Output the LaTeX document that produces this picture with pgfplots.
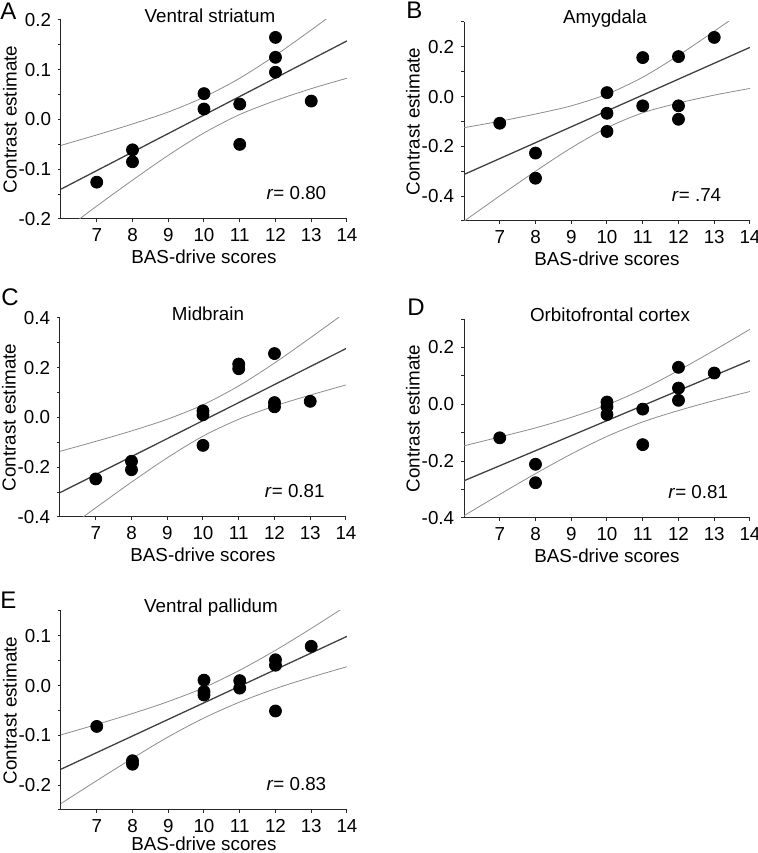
\documentclass[border=0pt]{standalone}
\usepackage{fontspec}
\setmainfont{Liberation Sans}
\usepackage{pgfplots}
\pgfplotsset{compat=1.18}

\newcommand{\lblfont}{\fontsize{9.4}{11}\selectfont}
\newcommand{\letfont}{\fontsize{12}{14}\selectfont}
\pgfplotsset{
  panel/.style={
    scale only axis, width=143pt, height=99.5pt,
    axis lines*=left, xmin=6, xmax=14, xtick={7,...,14},
    clip mode=individual,
    tick align=outside, major tick length=1.4pt, minor tick length=1.4pt,
    axis line style={line width=0.5pt, color=black!85},
    every tick/.style={line width=0.5pt, color=black!85},
    minor tick style={line width=0.5pt, color=black!85},
    every tick label/.append style={font=\lblfont},
    /pgf/number format/assume math mode=true,
    yticklabel style={/pgf/number format/fixed, /pgf/number format/fixed zerofill, /pgf/number format/precision=1},
    xlabel={BAS-drive scores}, ylabel={Contrast estimate},
    every axis x label/.style={at={(axis description cs:0.5,0)}, yshift=-18.7pt, anchor=center, font=\lblfont},
    every axis y label/.style={at={(axis description cs:0,0.5)}, xshift=-25.5pt, rotate=90, anchor=center, font=\lblfont},
  },
  ci/.style={no marks, smooth, color=black!45, line width=0.4pt},
  fit/.style={no marks, color=black!75, line width=0.65pt},
  dots/.style={only marks, mark=*, mark size=3pt, color=black},
}

\begin{document}
\begin{tikzpicture}
\path[use as bounding box] (0,0) rectangle (379pt,426.5pt);

% A
\begin{axis}[panel, at={(30.5pt,317pt)}, anchor=south west,
  ymin=-0.2, ymax=0.2, ytick={-0.2,-0.1,0,0.1,0.2}, minor ytick={-0.15,-0.05,0.05,0.15}]
\addplot[ci] coordinates {(6,-0.052) (7,-0.031) (8,-0.009) (9,0.015) (10,0.045) (11,0.083) (12,0.129) (13,0.180) (14,0.233)};
\addplot[ci] coordinates {(6,-0.228) (7,-0.174) (8,-0.122) (9,-0.072) (10,-0.027) (11,0.010) (12,0.038) (13,0.062) (14,0.083)};
\addplot[fit] coordinates {(6,-0.140) (14,0.158)};
\addplot[dots] coordinates {(7,-0.126) (8,-0.061) (8,-0.085) (10,0.052) (10,0.021) (11,0.031) (11,-0.050) (12,0.165) (12,0.125) (12,0.095) (13,0.037)};
\node[font=\lblfont, anchor=base, xshift=3pt, yshift=-1.2pt] at (rel axis cs:0.5,1) {Ventral striatum};
\node[font=\lblfont, anchor=base east] at (rel axis cs:0.952,0.097) {\textit{r}= 0.80};
\end{axis}

% B
\begin{axis}[panel, at={(232pt,316pt)}, anchor=south west,
  ymin=-0.5, ymax=0.3, ytick={-0.4,-0.2,0,0.2}, minor ytick={-0.5,-0.3,-0.1,0.1,0.3}]
\addplot[ci] coordinates {(6,-0.125) (7,-0.099) (8,-0.070) (9,-0.037) (10,0.010) (11,0.078) (12,0.166) (13,0.263) (14,0.363)};
\addplot[ci] coordinates {(6,-0.501) (7,-0.399) (8,-0.300) (9,-0.206) (10,-0.125) (11,-0.065) (12,-0.026) (13,0.006) (14,0.033)};
\addplot[fit] coordinates {(6,-0.313) (14,0.198)};
\addplot[dots] coordinates {(7,-0.107) (8,-0.227) (8,-0.328) (10,0.016) (10,-0.067) (10,-0.140) (11,0.157) (11,-0.037) (12,0.161) (12,-0.037) (12,-0.091) (13,0.238)};
\node[font=\lblfont, anchor=base, xshift=-1pt, yshift=-0.8pt] at (rel axis cs:0.5,1) {Amygdala};
\node[font=\lblfont, anchor=base east] at (rel axis cs:0.924,0.097) {\textit{r}= .74};
\end{axis}

% C
\begin{axis}[panel, at={(30pt,168pt)}, anchor=south west,
  ymin=-0.4, ymax=0.4, ytick={-0.4,-0.2,0,0.2,0.4}, minor ytick={-0.3,-0.1,0.1,0.3}]
\addplot[ci] coordinates {(6,-0.136) (7,-0.096) (8,-0.054) (9,-0.007) (10,0.051) (11,0.127) (12,0.219) (13,0.320) (14,0.424)};
\addplot[ci] coordinates {(6,-0.468) (7,-0.363) (8,-0.260) (9,-0.162) (10,-0.075) (11,-0.007) (12,0.046) (13,0.090) (14,0.131)};
\addplot[fit] coordinates {(6,-0.302) (14,0.277)};
\addplot[dots] coordinates {(7,-0.247) (8,-0.176) (8,-0.210) (10,0.027) (10,0.011) (10,-0.112) (11,0.215) (11,0.196) (12,0.257) (12,0.060) (12,0.043) (13,0.065)};
\node[font=\lblfont, anchor=base, xshift=2.5pt, yshift=-1.4pt] at (rel axis cs:0.5,1) {Midbrain};
\node[font=\lblfont, anchor=base east] at (rel axis cs:0.95,0.096) {\textit{r}= 0.81};
\end{axis}

% D
\begin{axis}[panel, at={(232pt,167.5pt)}, anchor=south west,
  ymin=-0.4, ymax=0.3, ytick={-0.4,-0.2,0,0.2}, minor ytick={-0.3,-0.1,0.1,0.3}]
\addplot[ci] coordinates {(6,-0.146) (7,-0.115) (8,-0.083) (9,-0.046) (10,-0.002) (11,0.053) (12,0.119) (13,0.190) (14,0.264)};
\addplot[ci] coordinates {(6,-0.392) (7,-0.317) (8,-0.244) (9,-0.175) (10,-0.113) (11,-0.062) (12,-0.022) (13,0.013) (14,0.045)};
\addplot[fit] coordinates {(6,-0.269) (14,0.154)};
\addplot[dots] coordinates {(7,-0.118) (8,-0.211) (8,-0.276) (10,0.008) (10,-0.008) (10,-0.036) (11,-0.017) (11,-0.142) (12,0.130) (12,0.057) (12,0.014) (13,0.110)};
\node[font=\lblfont, anchor=base, xshift=1.5pt, yshift=-1.4pt] at (rel axis cs:0.5,1) {Orbitofrontal cortex};
\node[font=\lblfont, anchor=base east] at (rel axis cs:0.948,0.10) {\textit{r}= 0.81};
\end{axis}

% E
\begin{axis}[panel, at={(30.5pt,21.5pt)}, anchor=south west,
  ymin=-0.25, ymax=0.15, ytick={-0.2,-0.1,0,0.1}, minor ytick={-0.25,-0.15,-0.05,0.05,0.15},
  every axis x label/.append style={yshift=1.6pt}]
\addplot[ci] coordinates {(6,-0.099) (7,-0.078) (8,-0.056) (9,-0.032) (10,-0.004) (11,0.031) (12,0.071) (13,0.115) (14,0.161)};
\addplot[ci] coordinates {(6,-0.237) (7,-0.191) (8,-0.146) (9,-0.103) (10,-0.065) (11,-0.033) (12,-0.006) (13,0.017) (14,0.038)};
\addplot[fit] coordinates {(6,-0.168) (14,0.099)};
\addplot[dots] coordinates {(7,-0.082) (8,-0.151) (8,-0.158) (10,0.011) (10,-0.012) (10,-0.019) (11,0.010) (11,-0.005) (12,0.052) (12,0.041) (12,-0.051) (13,0.079)};
\node[font=\lblfont, anchor=base, xshift=3.5pt, yshift=-0.9pt] at (rel axis cs:0.5,1) {Ventral pallidum};
\node[font=\lblfont, anchor=base east] at (rel axis cs:0.952,0.10) {\textit{r}= 0.83};
\end{axis}

% panel letters
\node[font=\letfont, anchor=base west, inner sep=0pt] at (0pt,416.9pt) {A};
\node[font=\letfont, anchor=base west, inner sep=0pt] at (203pt,417.3pt) {B};
\node[font=\letfont, anchor=base west, inner sep=0pt] at (0.5pt,273.7pt) {C};
\node[font=\letfont, anchor=base west, inner sep=0pt] at (203.5pt,268.7pt) {D};
\node[font=\letfont, anchor=base west, inner sep=0pt] at (0pt,122.3pt) {E};
\end{tikzpicture}
\end{document}
